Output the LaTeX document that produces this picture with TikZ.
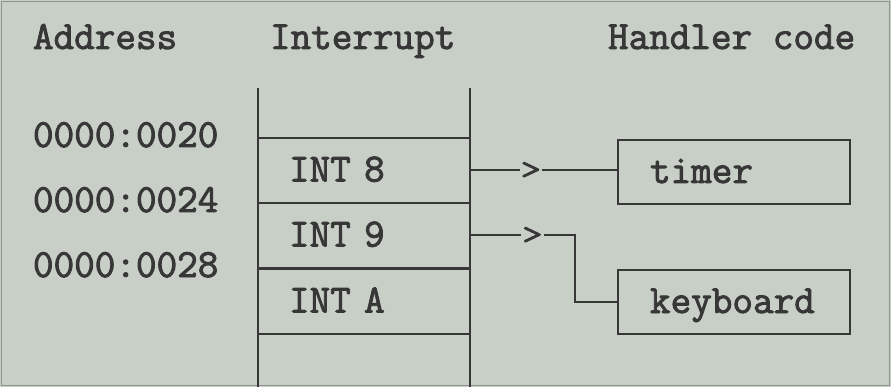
\documentclass[tikz,border=0pt]{standalone}
\usepackage{fontspec}
\newfontfamily\courfont{Latin Modern Mono}[FakeBold=2.2]
\definecolor{bg}{RGB}{199,207,198}
\definecolor{ink}{RGB}{55,55,55}
\begin{document}
\begin{tikzpicture}[x=1pt,y=-1pt,
  every node/.style={font=\fontsize{40}{40}\selectfont\courfont, text=ink},
  line width=2pt, draw=ink,
  lbl/.style={inner sep=0pt},
  row/.style={draw=ink, minimum width=212pt, minimum height=65pt, text width=150pt,
    inner xsep=31pt, inner ysep=0pt, align=left, text height=22pt, text depth=0pt},
  hbox/.style={draw=ink, minimum width=232pt, minimum height=64pt, text width=168pt,
    inner xsep=32pt, inner ysep=0pt, align=left, text height=22pt, text depth=0pt},
  chev/.style={fill=bg, inner xsep=1pt, inner ysep=0pt}
]
\fill[bg] (0,0) rectangle (891,387);
\useasboundingbox (0,0) rectangle (891,387);
\draw[gray!75!bg, line width=1.2pt] (1.5,1.5) rectangle (889.5,385.5);

% headers
\node[lbl, anchor=base west] (hAddr) at (32,49) {Address};
\node[lbl, anchor=base west] (hInt) at (269,49) {Interrupt};
\node[lbl, anchor=base west] (hHand) at (607,49) {Handler code};

% address labels
\node[lbl, anchor=base west] (a20) at (32,147) {0000:0020};
\node[lbl, anchor=base west] (a24) at (32,212) {0000:0024};
\node[lbl, anchor=base west] (a28) at (32,277) {0000:0028};

% interrupt table
\coordinate (ctl) at (258,88);
\coordinate (ctr) at (470,88);
\coordinate (cbl) at (258,387);
\coordinate (cbr) at (470,387);
\node[row] (int8) at (364,170.5) {INT 8};
\node[row] (int9) at (364,235.5) {INT 9};
\node[row] (intA) at (364,301.5) {INT A};
\draw (ctl) -- (cbl);
\draw (ctr) -- (cbr);

% handler boxes
\node[hbox] (timer) at (734,172) {timer};
\node[hbox] (kbd) at (734,302) {keyboard};

% connectors
\draw (int8.east) -- node[chev, pos=0.41] (ch1) {\scalebox{1}[0.75]{>}} (int8.east -| timer.west);
\draw (int9.east) -- node[chev, pos=0.59] (ch2) {\scalebox{1}[0.75]{>}} ++(104,0) |- (kbd.west);
\end{tikzpicture}
\end{document}
